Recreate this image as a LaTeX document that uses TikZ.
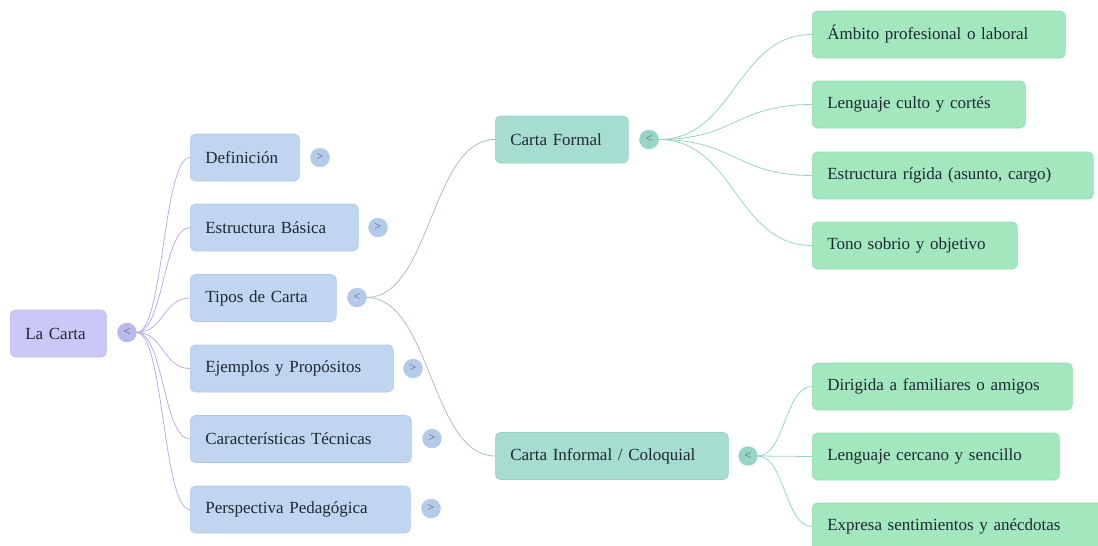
\documentclass[tikz,border=0pt]{standalone}
\usepackage{fontspec}
\setmainfont{Liberation Serif}
\begin{document}
\definecolor{rootc}{HTML}{C9C8F6}
\definecolor{rootd}{HTML}{B9B8EC}
\definecolor{lvac}{HTML}{C0D5F0}
\definecolor{lvad}{HTML}{B0C7E8}
\definecolor{lvbc}{HTML}{A5DDD0}
\definecolor{lvbd}{HTML}{94D2C3}
\definecolor{leafc}{HTML}{A2E7BE}
\definecolor{leafd}{HTML}{90DCAE}
\definecolor{txt}{HTML}{1E2833}
\definecolor{linkroot}{HTML}{B4B2E6}
\definecolor{linktip}{HTML}{A9BDC6}
\definecolor{linkteal}{HTML}{98D4C4}
\definecolor{rtogc}{HTML}{B7B9EC}
\definecolor{atogc}{HTML}{B3CAE8}
\definecolor{btogc}{HTML}{96D5C6}
\begin{tikzpicture}[x=1pt,y=-1pt,
  box/.style={rectangle, rounded corners=5pt, anchor=west, minimum height=47pt,
    inner xsep=15pt, inner ysep=0pt, align=left, text=txt,
    font=\fontsize{17}{20}\selectfont},
  rootbox/.style={box, fill=rootc, draw=rootd, line width=0.6pt},
  lvabox/.style={box, fill=lvac, draw=lvad, line width=0.6pt},
  lvbbox/.style={box, fill=lvbc, draw=lvbd, line width=0.6pt},
  leafbox/.style={box, fill=leafc, draw=leafd, line width=0.6pt},
  tog/.style={circle, minimum size=19pt, inner sep=0pt, text=txt!75,
    font=\fontsize{12}{12}\selectfont},
  rtog/.style={tog, fill=rtogc, draw=rtogc},
  atog/.style={tog, fill=atogc, draw=atogc},
  btog/.style={tog, fill=btogc, draw=btogc},
  lk/.style={line width=0.8pt}
]
\useasboundingbox (0,0) rectangle (1098,546);

% root
\node[rootbox, text width=66pt] (root) at (10,333.5) {La Carta};
\node[rtog] (troot) at (127,332.5) {<};

% first level
\node[lvabox, text width=79pt]  (def) at (190,157.5) {Definición};
\node[lvabox, text width=138pt] (est) at (190,227.5) {Estructura Básica};
\node[lvabox, text width=116pt] (tip) at (190,298)   {Tipos de Carta};
\node[lvabox, text width=173pt] (eje) at (190,368.5) {Ejemplos y Propósitos};
\node[lvabox, text width=191pt] (car) at (190,439)   {Características Técnicas};
\node[lvabox, text width=190pt] (per) at (190,509.5) {Perspectiva Pedagógica};

\node[atog] (tdef) at (320,157.5) {>};
\node[atog] (test) at (378,227.5) {>};
\node[atog] (ttip) at (357,297.5) {<};
\node[atog] (teje) at (413,368.5) {>};
\node[atog] (tcar) at (432,438.5) {>};
\node[atog] (tper) at (431,508.5) {>};

% second level
\node[lvbbox, text width=103pt] (for) at (495,139.5) {Carta Formal};
\node[lvbbox, text width=203pt] (inf) at (495,456)   {Carta Informal / Coloquial};
\node[btog] (tfor) at (649,139.5) {<};
\node[btog] (tinf) at (748,456)   {<};

% leaves
\node[leafbox, text width=223pt] (amb) at (812,34.5)  {Ámbito profesional o laboral};
\node[leafbox, text width=183pt] (lcu) at (812,104.5) {Lenguaje culto y cortés};
\node[leafbox, text width=251pt] (eri) at (812,175.5) {Estructura rígida (asunto, cargo)};
\node[leafbox, text width=175pt] (ton) at (812,245.5) {Tono sobrio y objetivo};
\node[leafbox, text width=230pt] (dir) at (812,386.5) {Dirigida a familiares o amigos};
\node[leafbox, text width=217pt] (lce) at (812,456.5) {Lenguaje cercano y sencillo};
\node[leafbox, text width=270pt] (exp) at (812,526.5) {Expresa sentimientos y anécdotas};

% links from the root
\foreach \t in {def,est,tip,eje,car,per}
  \draw[lk, linkroot] (troot.east) .. controls +(27,0) and +(-27,0) .. (\t.west);

% links from Tipos de Carta
\foreach \t in {for,inf}
  \draw[lk, linktip] (ttip.east) .. controls +(64,0) and +(-64,0) .. (\t.west);

% links from Carta Formal
\foreach \t in {amb,lcu,eri,ton}
  \draw[lk, linkteal] (tfor.east) .. controls +(76,0) and +(-76,0) .. (\t.west);

% links from Carta Informal
\foreach \t in {dir,lce,exp}
  \draw[lk, linkteal] (tinf.east) .. controls +(27,0) and +(-27,0) .. (\t.west);
\end{tikzpicture}
\end{document}
